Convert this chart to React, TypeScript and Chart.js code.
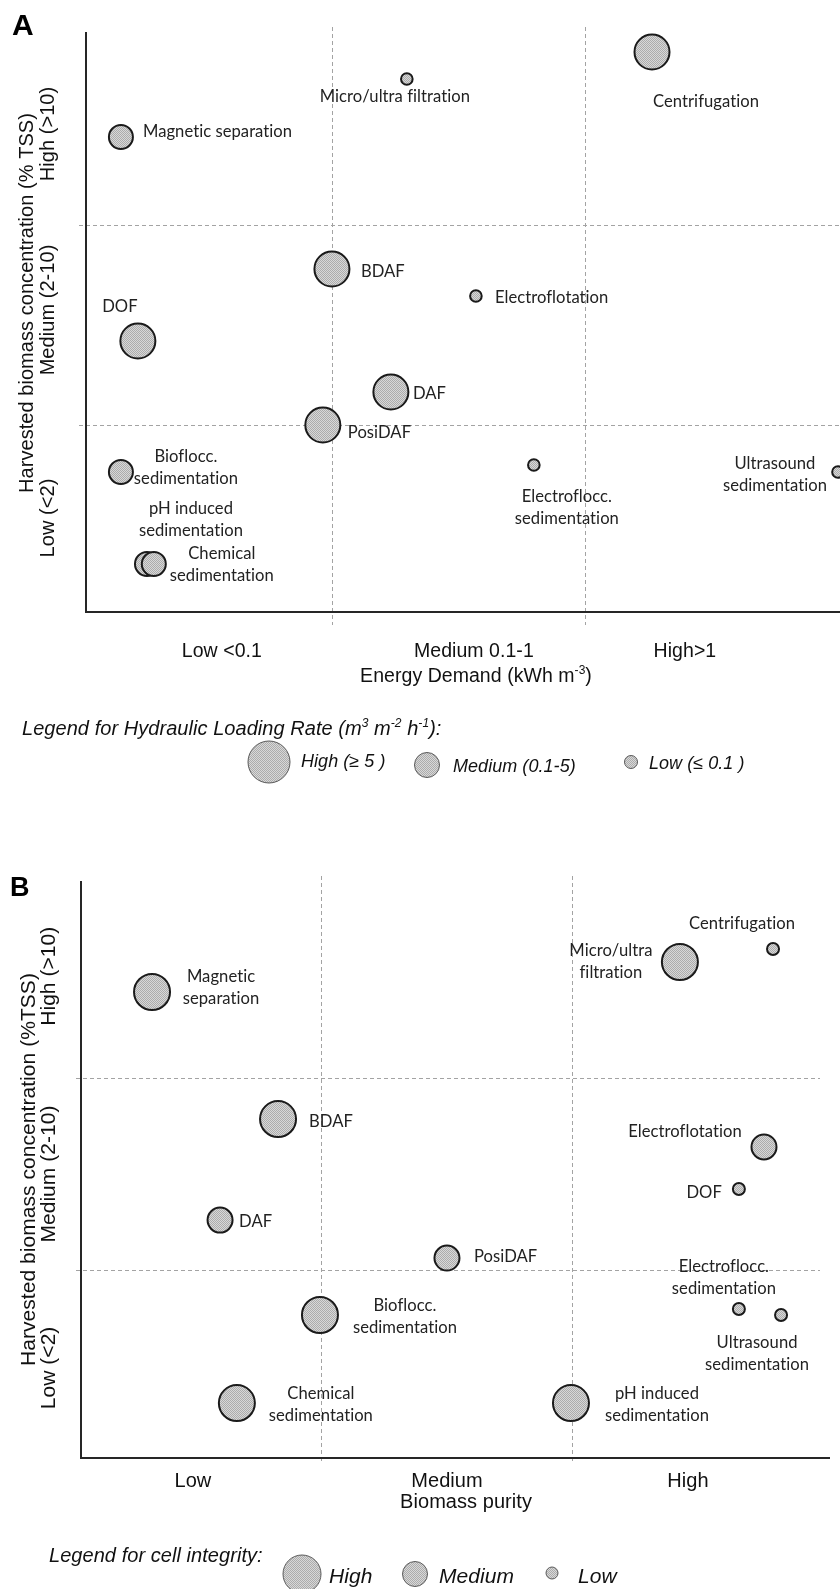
import React, { useEffect, useRef } from "react";
import { Chart, registerables } from "chart.js";

Chart.register(...registerables);

// ---------------- Panel A data ----------------
const methodsA = [
  "Micro/ultra filtration",
  "Centrifugation",
  "Magnetic separation",
  "BDAF",
  "Electroflotation",
  "DOF",
  "DAF",
  "PosiDAF",
  "Bioflocc. sedimentation",
  "pH induced sedimentation",
  "Chemical sedimentation",
  "Electroflocc. sedimentation",
  "Ultrasound sedimentation",
];
const labelLinesA = [
  ["Micro/ultra filtration"],
  ["Centrifugation"],
  ["Magnetic separation"],
  ["BDAF"],
  ["Electroflotation"],
  ["DOF"],
  ["DAF"],
  ["PosiDAF"],
  ["Bioflocc.", "sedimentation"],
  ["pH induced", "sedimentation"],
  ["Chemical", "sedimentation"],
  ["Electroflocc.", "sedimentation"],
  ["Ultrasound", "sedimentation"],
];
// energy demand class position (0-1 low, 1-2 medium, 2-3 high)
const energyA = [1.296, 2.265, 0.166, 1.0, 1.569, 0.233, 1.233, 0.964, 0.166, 0.269, 0.296, 1.798, 3.0];
// harvested concentration class position (0-1 low, 1-2 medium, 2-3 high)
const concA = [2.73, 2.865, 2.44, 1.78, 1.645, 1.42, 1.165, 1.0, 0.765, 0.305, 0.305, 0.8, 0.765];
const hlrA = ["Low", "High", "Medium", "High", "Low", "High", "High", "High", "Medium", "Medium", "Medium", "Low", "Low"];
const xTickLabelsA = ["Low <0.1", "Medium 0.1-1", "High>1"];
const xTickValuesA = [0.565, 1.561, 2.395];
const yCatLabelsA = ["Low (<2)", "Medium (2-10)", "High (>10)"];
const yCatValuesA = [0.535, 1.575, 2.455];
const legendLabelsA = ["High (\u2265 5 )", "Medium (0.1-5)", "Low (\u2264 0.1 )"];

// ---------------- Panel B data ----------------
const methodsB = [
  "Magnetic separation",
  "BDAF",
  "Micro/ultra filtration",
  "Centrifugation",
  "Electroflotation",
  "DOF",
  "DAF",
  "PosiDAF",
  "Bioflocc. sedimentation",
  "Chemical sedimentation",
  "pH induced sedimentation",
  "Electroflocc. sedimentation",
  "Ultrasound sedimentation",
];
const labelLinesB = [
  ["Magnetic", "separation"],
  ["BDAF"],
  ["Micro/ultra", "filtration"],
  ["Centrifugation"],
  ["Electroflotation"],
  ["DOF"],
  ["DAF"],
  ["PosiDAF"],
  ["Bioflocc.", "sedimentation"],
  ["Chemical", "sedimentation"],
  ["pH induced", "sedimentation"],
  ["Electroflocc.", "sedimentation"],
  ["Ultrasound", "sedimentation"],
];
const purityB = [0.327, 0.829, 2.43, 2.801, 2.765, 2.665, 0.598, 1.502, 0.996, 0.665, 1.996, 2.665, 2.833];
const concB = [2.448, 1.786, 2.604, 2.672, 1.641, 1.422, 1.26, 1.0625, 0.766, 0.307, 0.307, 0.797, 0.766];
const integrityB = ["High", "High", "High", "Low", "Medium", "Low", "Medium", "Medium", "High", "High", "High", "Low", "Low"];
const xTickLabelsB = ["Low", "Medium", "High"];
const xTickValuesB = [0.49, 1.502, 2.462];
const yCatLabelsB = ["Low (<2)", "Medium (2-10)", "High (>10)"];
const yCatValuesB = [0.49, 1.5, 2.53];
const legendLabelsB = ["High", "Medium", "Low"];

const classBounds = [1, 2];

// ---------------- styles / layout ----------------
const AX_FONT = '"Liberation Sans", Arial, Helvetica, sans-serif';
const LB_FONT = 'Lato, "Open Sans", "Noto Sans", sans-serif';

type Seg = { t: string; sup?: boolean };
type Align = "l" | "c" | "r";

const layoutA = {
  width: 840,
  height: 840,
  padding: { left: 86, top: 32, right: 0, bottom: 228 },
  xMin: 0.028, xMax: 3.008, yMin: 0.065, yMax: 2.965,
  radii: { High: 17.5, Medium: 12, Low: 5.8 } as Record<string, number>,
  labelOffsets: [
    [-12, 23, "c"], [54, 55, "c"], [22, 0, "l"], [29, 8, "l"], [19, 7, "l"], [-18, -29, "c"],
    [22, 7, "l"], [25, 13, "l"], [65, -10, "c"], [44, -50, "c"], [68, -5, "c"], [33, 37, "c"], [-63, -3, "c"],
  ] as [number, number, Align][],
  labelSize: 16.6,
  lineH: 21.5,
  vExt: [5, 13],
  hLeftExt: 7,
  hRight: 840,
  tickSize: 19.5,
  tickBase: 45,
  xTitle: [{ t: "Energy Demand (kWh m" }, { t: "-3", sup: true }, { t: ")" }] as Seg[],
  xTitleCenter: 476,
  xTitleBase: 70,
  yTitle: "Harvested biomass concentration (% TSS)",
  yTitleShift: -19,
  yTitleX: 33,
  yCatX: 54,
  ySize: 20,
  letter: "A", letterSize: 30, letterX: 12, letterY: 35,
  legendTitle: [
    { t: "Legend for Hydraulic Loading Rate (m" }, { t: "3", sup: true }, { t: " m" }, { t: "-2", sup: true },
    { t: " h" }, { t: "-1", sup: true }, { t: "):" },
  ] as Seg[],
  legendTitleX: 22, legendTitleY: 735, legendTitleSize: 20,
  legendItems: [
    { cx: 269, cy: 762, r: 21, lx: 301, ly: 767 },
    { cx: 427, cy: 765, r: 12.5, lx: 453, ly: 772 },
    { cx: 631, cy: 762, r: 6.5, lx: 649, ly: 769 },
  ],
  legendSize: 18,
};

const layoutB = {
  width: 840,
  height: 749,
  padding: { left: 81, top: 41, right: 10, bottom: 131 },
  xMin: 0.044, xMax: 3.028, yMin: 0.021, yMax: 3.026,
  radii: { High: 18, Medium: 12.5, Low: 6 } as Record<string, number>,
  labelOffsets: [
    [69, -10, "c"], [31, 8, "l"], [-69, -6, "c"], [-31, -20, "c"], [-79, -10, "c"], [-17, 9, "r"],
    [19, 7, "l"], [27, 4, "l"], [85, -4, "c"], [84, -4, "c"], [86, -4, "c"], [-15, -37, "c"], [-24, 33, "c"],
  ] as [number, number, Align][],
  labelSize: 16.6,
  lineH: 22,
  vExt: [5, 5],
  hLeftExt: 5,
  hRight: 820,
  tickSize: 20,
  tickBase: 29,
  xTitle: [{ t: "Biomass purity" }] as Seg[],
  xTitleCenter: 466,
  xTitleBase: 50,
  yTitle: "Harvested biomass concentration (%TSS)",
  yTitleShift: 0,
  yTitleX: 35,
  yCatX: 55,
  ySize: 21,
  letter: "B", letterSize: 27, letterX: 10, letterY: 56,
  legendTitle: [{ t: "Legend for cell integrity:" }] as Seg[],
  legendTitleX: 49, legendTitleY: 722, legendTitleSize: 20,
  legendItems: [
    { cx: 302, cy: 734, r: 19, lx: 329, ly: 743 },
    { cx: 415, cy: 734, r: 12.5, lx: 439, ly: 743 },
    { cx: 552, cy: 733, r: 6, lx: 578, ly: 743 },
  ],
  legendSize: 21,
};

function makePattern(): CanvasPattern | string {
  const c = document.createElement("canvas");
  c.width = 2;
  c.height = 2;
  const g = c.getContext("2d");
  if (!g) return "#c2c2c2";
  g.fillStyle = "#d8d8d8";
  g.fillRect(0, 0, 2, 2);
  g.fillStyle = "#acacac";
  g.fillRect(0, 0, 1, 1);
  g.fillRect(1, 1, 1, 1);
  return g.createPattern(c, "repeat") || "#c2c2c2";
}

function noLigatures(ctx: CanvasRenderingContext2D) {
  const c = ctx as any;
  try {
    c.textRendering = "optimizeSpeed";
    c.letterSpacing = "0.05px";
  } catch (e) {
    /* ignore */
  }
}

function drawRich(ctx: CanvasRenderingContext2D, segs: Seg[], x: number, y: number, size: number, style: string, align: Align) {
  const base = `${style} ${size}px ${AX_FONT}`;
  const sup = `${style} ${Math.round(size * 0.62)}px ${AX_FONT}`;
  let w = 0;
  for (const s of segs) {
    ctx.font = s.sup ? sup : base;
    w += ctx.measureText(s.t).width;
  }
  let cx = align === "c" ? x - w / 2 : align === "r" ? x - w : x;
  ctx.textAlign = "left";
  ctx.textBaseline = "alphabetic";
  for (const s of segs) {
    ctx.font = s.sup ? sup : base;
    ctx.fillText(s.t, cx, s.sup ? y - size * 0.4 : y);
    cx += ctx.measureText(s.t).width;
  }
}

type Panel = {
  xs: number[];
  ys: number[];
  levels: string[];
  names: string[];
  lines: string[][];
  xTickLabels: string[];
  xTickValues: number[];
  yCatLabels: string[];
  yCatValues: number[];
  legendLabels: string[];
  L: typeof layoutA;
};

function PanelChart({ panel }: { panel: Panel }) {
  const ref = useRef<HTMLCanvasElement | null>(null);
  useEffect(() => {
    const canvas = ref.current;
    if (!canvas) return;
    const L = panel.L;
    const pattern = makePattern();
    const points = panel.xs.map((x, i) => ({ x, y: panel.ys[i], r: L.radii[panel.levels[i]] }));

    const decor = {
      id: "decor",
      beforeDatasetsDraw(chart: any) {
        const { ctx, chartArea: a, scales } = chart;
        const xs = scales.x;
        const ys = scales.y;
        ctx.save();
        ctx.strokeStyle = "#a3a3a3";
        ctx.lineWidth = 1;
        ctx.setLineDash([4, 3]);
        for (const v of classBounds) {
          const px = Math.round(xs.getPixelForValue(v)) + 0.5;
          ctx.beginPath();
          ctx.moveTo(px, a.top - L.vExt[0]);
          ctx.lineTo(px, a.bottom + L.vExt[1]);
          ctx.stroke();
          const py = Math.round(ys.getPixelForValue(v)) + 0.5;
          ctx.beginPath();
          ctx.moveTo(a.left - L.hLeftExt, py);
          ctx.lineTo(L.hRight, py);
          ctx.stroke();
        }
        ctx.setLineDash([]);
        ctx.strokeStyle = "#262626";
        ctx.lineWidth = 2;
        ctx.beginPath();
        ctx.moveTo(a.left, a.top);
        ctx.lineTo(a.left, a.bottom);
        ctx.lineTo(a.right, a.bottom);
        ctx.stroke();
        ctx.restore();
      },
      afterDatasetsDraw(chart: any) {
        const { ctx, chartArea: a, scales } = chart;
        const xs = scales.x;
        const ys = scales.y;
        ctx.save();
        noLigatures(ctx);
        // bubble labels
        ctx.fillStyle = "#222222";
        ctx.font = `${L.labelSize}px ${LB_FONT}`;
        ctx.textBaseline = "alphabetic";
        panel.lines.forEach((lines, i) => {
          const [dx, dy, al] = L.labelOffsets[i];
          const bx = xs.getPixelForValue(panel.xs[i]);
          const by = ys.getPixelForValue(panel.ys[i]);
          ctx.textAlign = al === "l" ? "left" : al === "r" ? "right" : "center";
          lines.forEach((t, k) => ctx.fillText(t, bx + dx, by + dy + k * L.lineH));
        });
        // x ticks
        ctx.fillStyle = "#111111";
        ctx.textAlign = "center";
        ctx.font = `${L.tickSize}px ${AX_FONT}`;
        panel.xTickLabels.forEach((t, i) => {
          ctx.fillText(t, xs.getPixelForValue(panel.xTickValues[i]), a.bottom + L.tickBase);
        });
        drawRich(ctx, L.xTitle, L.xTitleCenter, a.bottom + L.xTitleBase, L.tickSize, "", "c");
        // y title & categories (rotated)
        const midY = (a.top + a.bottom) / 2 + L.yTitleShift;
        ctx.save();
        ctx.translate(L.yTitleX, midY);
        ctx.rotate(-Math.PI / 2);
        ctx.textAlign = "center";
        ctx.font = `${L.ySize}px ${AX_FONT}`;
        ctx.fillText(L.yTitle, 0, 0);
        ctx.restore();
        panel.yCatLabels.forEach((t, i) => {
          ctx.save();
          ctx.translate(L.yCatX, ys.getPixelForValue(panel.yCatValues[i]));
          ctx.rotate(-Math.PI / 2);
          ctx.textAlign = "center";
          ctx.font = `${L.ySize}px ${AX_FONT}`;
          ctx.fillText(t, 0, 0);
          ctx.restore();
        });
        // panel letter
        ctx.textAlign = "left";
        ctx.fillStyle = "#000000";
        ctx.font = `bold ${L.letterSize}px ${AX_FONT}`;
        ctx.fillText(L.letter, L.letterX, L.letterY);
        // legend
        ctx.fillStyle = "#111111";
        drawRich(ctx, L.legendTitle, L.legendTitleX, L.legendTitleY, L.legendTitleSize, "italic", "l");
        L.legendItems.forEach((it, i) => {
          ctx.beginPath();
          ctx.arc(it.cx, it.cy, it.r, 0, Math.PI * 2);
          ctx.fillStyle = pattern as any;
          ctx.fill();
          ctx.strokeStyle = "#5a5a5a";
          ctx.lineWidth = 1;
          ctx.stroke();
          ctx.fillStyle = "#111111";
          ctx.textAlign = "left";
          ctx.font = `italic ${L.legendSize}px ${AX_FONT}`;
          ctx.fillText(panel.legendLabels[i], it.lx, it.ly);
        });
        ctx.restore();
      },
    };

    const chart = new Chart(canvas, {
      type: "bubble",
      data: {
        datasets: [
          {
            label: "methods",
            data: points,
            backgroundColor: pattern as any,
            hoverBackgroundColor: pattern as any,
            borderColor: "#1a1a1a",
            hoverBorderColor: "#1a1a1a",
            borderWidth: 2,
            hoverBorderWidth: 2,
          },
        ],
      },
      options: {
        responsive: false,
        animation: false,
        events: [],
        layout: { padding: L.padding, autoPadding: false },
        plugins: {
          legend: { display: false },
          tooltip: { enabled: false },
          title: { display: false },
        },
        scales: {
          x: { type: "linear", display: false, min: L.xMin, max: L.xMax },
          y: { type: "linear", display: false, min: L.yMin, max: L.yMax },
        },
      },
      plugins: [decor],
    });
    return () => chart.destroy();
  }, [panel]);
  return <canvas ref={ref} width={panel.L.width} height={panel.L.height} style={{ display: "block" }} />;
}

const panelA: Panel = {
  xs: energyA, ys: concA, levels: hlrA, names: methodsA, lines: labelLinesA,
  xTickLabels: xTickLabelsA, xTickValues: xTickValuesA, yCatLabels: yCatLabelsA, yCatValues: yCatValuesA,
  legendLabels: legendLabelsA, L: layoutA,
};
const panelB: Panel = {
  xs: purityB, ys: concB, levels: integrityB, names: methodsB, lines: labelLinesB,
  xTickLabels: xTickLabelsB, xTickValues: xTickValuesB, yCatLabels: yCatLabelsB, yCatValues: yCatValuesB,
  legendLabels: legendLabelsB, L: layoutB as any,
};

export default function App() {
  useEffect(() => {
    document.body.style.margin = "0";
    document.body.style.background = "#ffffff";
  }, []);
  return (
    <div style={{ width: 840, height: 1589, overflow: "hidden", background: "#fff" }}>
      <PanelChart panel={panelA} />
      <PanelChart panel={panelB} />
    </div>
  );
}
